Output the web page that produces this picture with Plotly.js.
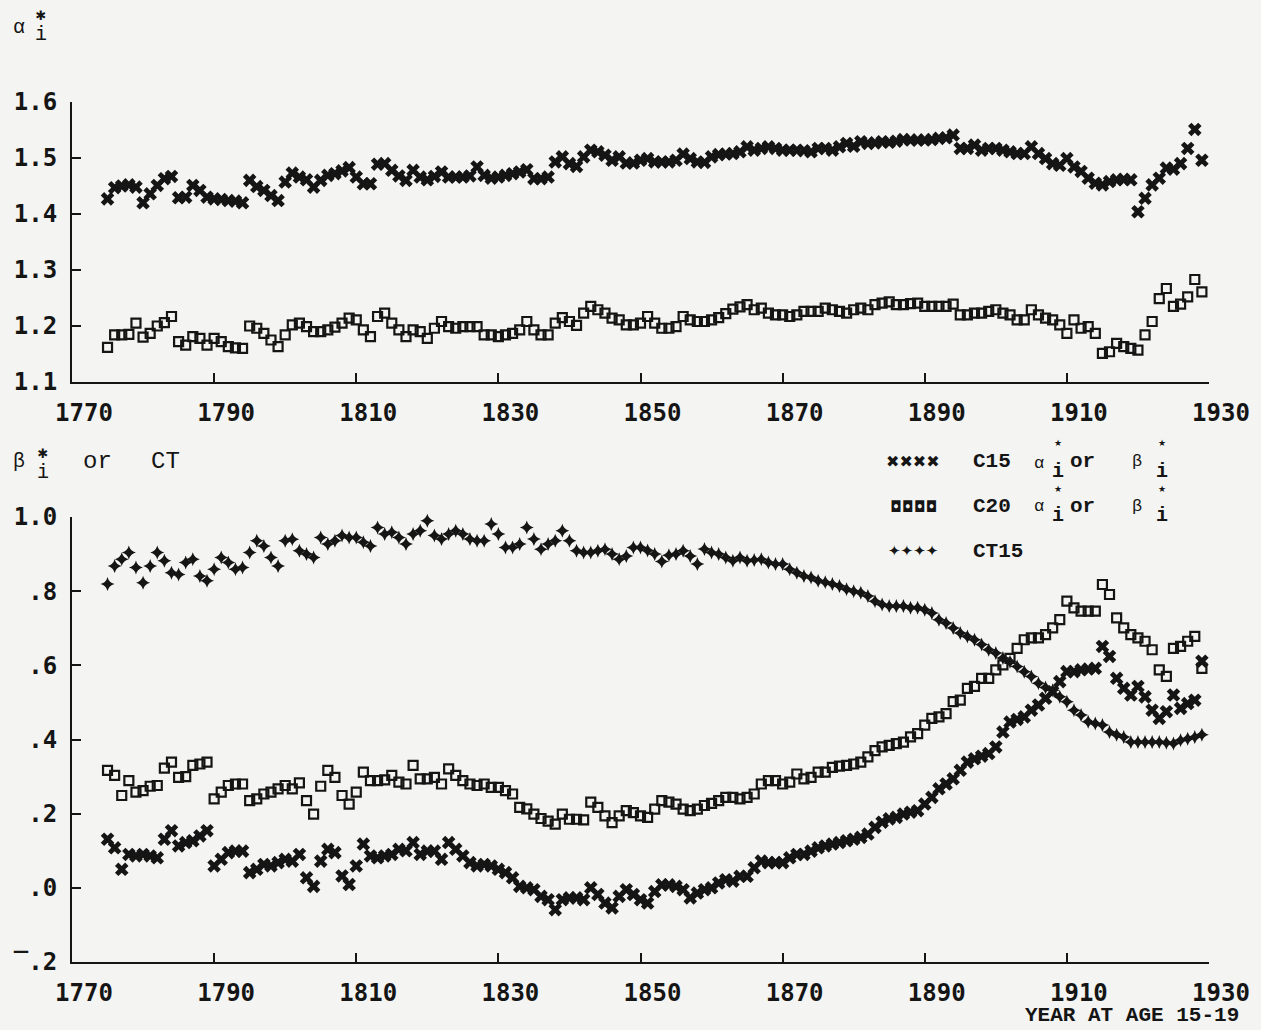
<!DOCTYPE html>
<html><head><meta charset="utf-8">
<script src="https://cdn.plot.ly/plotly-3.0.1.min.js"></script>
<style>html,body{margin:0;padding:0;background:#f4f4f2;} #chart{width:1261px;height:1030px;}</style>
</head><body><div id="chart"></div>
<script>
const years = [
1775,1776,1777,1778,1779,1780,1781,1782,1783,1784,1785,1786,1787,1788,1789,1790,1791,1792,1793,1794,
1795,1796,1797,1798,1799,1800,1801,1802,1803,1804,1805,1806,1807,1808,1809,1810,1811,1812,1813,1814,
1815,1816,1817,1818,1819,1820,1821,1822,1823,1824,1825,1826,1827,1828,1829,1830,1831,1832,1833,1834,
1835,1836,1837,1838,1839,1840,1841,1842,1843,1844,1845,1846,1847,1848,1849,1850,1851,1852,1853,1854,
1855,1856,1857,1858,1859,1860,1861,1862,1863,1864,1865,1866,1867,1868,1869,1870,1871,1872,1873,1874,
1875,1876,1877,1878,1879,1880,1881,1882,1883,1884,1885,1886,1887,1888,1889,1890,1891,1892,1893,1894,
1895,1896,1897,1898,1899,1900,1901,1902,1903,1904,1905,1906,1907,1908,1909,1910,1911,1912,1913,1914,
1915,1916,1917,1918,1919,1920,1921,1922,1923,1924,1925,1926,1927,1928,1929];

// alpha* (top panel)
const alphaC15 = [
1.427,1.447,1.450,1.452,1.448,1.420,1.436,1.451,1.463,1.467,
1.429,1.430,1.451,1.442,1.430,1.427,1.426,1.424,1.423,1.420,
1.460,1.449,1.442,1.433,1.424,1.457,1.473,1.466,1.461,1.448,
1.460,1.469,1.472,1.477,1.483,1.466,1.454,1.454,1.489,1.490,
1.478,1.468,1.460,1.478,1.466,1.461,1.467,1.475,1.466,1.466,
1.466,1.468,1.484,1.469,1.464,1.466,1.469,1.472,1.475,1.479,
1.463,1.463,1.466,1.493,1.502,1.490,1.485,1.502,1.514,1.511,
1.505,1.496,1.502,1.491,1.491,1.496,1.499,1.493,1.493,1.493,
1.496,1.507,1.499,1.493,1.492,1.502,1.506,1.507,1.508,1.511,
1.520,1.514,1.517,1.520,1.517,1.514,1.514,1.514,1.513,1.511,
1.517,1.517,1.514,1.520,1.526,1.521,1.529,1.526,1.527,1.529,
1.528,1.530,1.533,1.532,1.532,1.532,1.533,1.535,1.536,1.541,
1.517,1.517,1.523,1.514,1.517,1.517,1.514,1.511,1.508,1.508,
1.520,1.508,1.499,1.490,1.487,1.499,1.484,1.476,1.464,1.455,
1.452,1.458,1.461,1.462,1.461,1.404,1.428,1.452,1.464,1.482,
1.480,1.490,1.517,1.551,1.496];

const alphaC20 = [
1.162,1.184,1.184,1.185,1.205,1.180,1.187,1.200,1.206,1.217,
1.172,1.166,1.181,1.178,1.166,1.178,1.172,1.163,1.161,1.160,
1.200,1.196,1.187,1.175,1.163,1.184,1.202,1.205,1.199,1.190,
1.190,1.193,1.198,1.205,1.214,1.211,1.193,1.181,1.217,1.223,
1.205,1.193,1.181,1.193,1.190,1.178,1.196,1.208,1.199,1.196,
1.199,1.199,1.199,1.184,1.184,1.181,1.184,1.187,1.193,1.208,
1.193,1.184,1.184,1.205,1.215,1.208,1.201,1.223,1.235,1.229,
1.223,1.214,1.211,1.202,1.202,1.205,1.217,1.205,1.196,1.196,
1.199,1.217,1.211,1.208,1.208,1.211,1.215,1.222,1.230,1.234,
1.238,1.229,1.232,1.223,1.220,1.220,1.217,1.220,1.226,1.226,
1.226,1.232,1.229,1.226,1.223,1.229,1.232,1.229,1.238,1.241,
1.243,1.238,1.238,1.240,1.241,1.235,1.235,1.235,1.235,1.239,
1.220,1.220,1.223,1.223,1.226,1.229,1.223,1.220,1.211,1.211,
1.229,1.220,1.214,1.211,1.202,1.187,1.211,1.196,1.199,1.187,
1.151,1.154,1.169,1.163,1.160,1.157,1.184,1.208,1.249,1.267,
1.235,1.239,1.252,1.283,1.261];

// beta* (bottom panel)
const betaC15 = [
0.131,0.108,0.050,0.090,0.086,0.090,0.086,0.081,0.131,0.154,
0.113,0.122,0.127,0.140,0.154,0.059,0.077,0.095,0.099,0.099,
0.041,0.050,0.063,0.059,0.068,0.077,0.072,0.090,0.027,0.004,
0.072,0.104,0.095,0.032,0.009,0.059,0.118,0.086,0.081,0.086,
0.090,0.104,0.100,0.122,0.090,0.099,0.099,0.077,0.122,0.104,
0.086,0.068,0.059,0.063,0.059,0.050,0.041,0.027,0.004,0.000,
-0.005,-0.023,-0.032,-0.059,-0.032,-0.027,-0.027,-0.032,0.000,-0.018,
-0.041,-0.054,-0.023,-0.005,-0.018,-0.032,-0.041,-0.010,0.008,0.008,
0.004,-0.005,-0.027,-0.014,-0.005,0.000,0.013,0.022,0.018,0.031,
0.031,0.054,0.072,0.068,0.068,0.068,0.081,0.090,0.090,0.099,
0.108,0.113,0.118,0.122,0.127,0.131,0.136,0.145,0.163,0.177,
0.186,0.190,0.199,0.204,0.208,0.226,0.244,0.267,0.280,0.294,
0.317,0.339,0.348,0.355,0.362,0.380,0.420,0.447,0.454,0.461,
0.479,0.493,0.511,0.529,0.556,0.583,0.583,0.588,0.590,0.592,
0.651,0.624,0.565,0.538,0.520,0.543,0.515,0.479,0.457,0.475,
0.520,0.484,0.497,0.506,0.611];

const betaC20 = [
0.317,0.303,0.249,0.289,0.258,0.262,0.274,0.276,0.323,0.339,
0.298,0.300,0.330,0.334,0.339,0.240,0.258,0.276,0.280,0.280,
0.235,0.240,0.253,0.258,0.267,0.276,0.267,0.283,0.235,0.199,
0.274,0.317,0.298,0.249,0.226,0.258,0.312,0.289,0.289,0.291,
0.303,0.285,0.280,0.330,0.294,0.294,0.298,0.280,0.321,0.303,
0.289,0.280,0.276,0.280,0.271,0.271,0.262,0.253,0.217,0.213,
0.199,0.187,0.180,0.172,0.199,0.185,0.185,0.183,0.231,0.217,
0.194,0.176,0.194,0.208,0.203,0.194,0.190,0.212,0.235,0.231,
0.226,0.212,0.208,0.212,0.222,0.228,0.235,0.244,0.244,0.240,
0.244,0.253,0.280,0.289,0.289,0.280,0.285,0.307,0.294,0.298,
0.312,0.312,0.325,0.328,0.330,0.334,0.339,0.353,0.370,0.380,
0.384,0.389,0.393,0.407,0.416,0.439,0.457,0.461,0.470,0.502,
0.506,0.538,0.543,0.565,0.565,0.588,0.601,0.619,0.646,0.669,
0.674,0.674,0.683,0.701,0.723,0.773,0.755,0.746,0.746,0.746,
0.818,0.791,0.728,0.701,0.683,0.674,0.665,0.642,0.588,0.570,
0.646,0.651,0.665,0.678,0.592];

const ct15 = [
0.819,0.868,0.886,0.904,0.864,0.823,0.868,0.904,0.882,0.850,
0.845,0.877,0.886,0.841,0.828,0.859,0.891,0.877,0.859,0.864,
0.904,0.936,0.922,0.891,0.868,0.936,0.940,0.909,0.900,0.891,
0.945,0.927,0.936,0.950,0.945,0.945,0.932,0.922,0.972,0.954,
0.959,0.945,0.927,0.954,0.963,0.990,0.950,0.941,0.954,0.963,
0.954,0.941,0.936,0.936,0.981,0.954,0.918,0.918,0.927,0.972,
0.941,0.913,0.927,0.936,0.963,0.936,0.909,0.904,0.904,0.909,
0.913,0.900,0.886,0.895,0.918,0.918,0.910,0.900,0.880,0.897,
0.900,0.909,0.895,0.873,0.914,0.904,0.900,0.891,0.882,0.891,
0.882,0.884,0.886,0.877,0.873,0.873,0.859,0.850,0.841,0.837,
0.828,0.824,0.819,0.814,0.805,0.800,0.796,0.787,0.773,0.764,
0.760,0.760,0.760,0.755,0.755,0.750,0.741,0.723,0.714,0.701,
0.687,0.678,0.669,0.656,0.642,0.633,0.620,0.610,0.597,0.583,
0.570,0.552,0.540,0.533,0.515,0.502,0.479,0.466,0.448,0.443,
0.439,0.420,0.413,0.407,0.393,0.393,0.393,0.393,0.393,0.391,
0.389,0.398,0.402,0.407,0.413];

const xTickVals = [1770,1790,1810,1830,1850,1870,1890,1910,1930];
const xTickText = ['1770','1790','1810','1830','1850','1870','1890','1910','1930'];
const alphaTickVals = [1.1,1.2,1.3,1.4,1.5,1.6];
const alphaTickText = ['1.1','1.2','1.3','1.4','1.5','1.6'];
const betaTickVals = [-0.2,0,0.2,0.4,0.6,0.8,1.0];
const betaTickText = ['\u203e.2','.0','.2','.4','.6','.8','1.0'];

const INK = '#151515';
const tickFont = {family:'DejaVu Sans Mono', size:24, weight:'bold', color:INK};

// plot area in pixels
const L = 72, T = 102, W = 1137, H = 860;
const px = x => (x - L) / W;
const py = y => (T + H - y) / H;

const mk = (sym, size, lw) => ({symbol:sym, size:size, color:INK, line:{color:INK, width:lw}});

const traces = [
  {x:years, y:alphaC15, xaxis:'x', yaxis:'y', mode:'markers', name:'C15', marker:mk('x', 12, 0), cliponaxis:false},
  {x:years, y:alphaC20, xaxis:'x', yaxis:'y', mode:'markers', name:'C20', marker:mk('square-open', 9, 2.2), cliponaxis:false},
  {x:years, y:betaC15, xaxis:'x2', yaxis:'y2', mode:'markers', name:'C15', marker:mk('x', 12, 0), cliponaxis:false},
  {x:years, y:betaC20, xaxis:'x2', yaxis:'y2', mode:'markers', name:'C20', marker:mk('square-open', 9, 2.2), cliponaxis:false},
  {x:years, y:ct15, xaxis:'x2', yaxis:'y2', mode:'markers', name:'CT15', marker:mk('star-diamond', 10, 0), cliponaxis:false}
];

const xAxisBase = {
  range:[1770,1930], tickmode:'array', tickvals:xTickVals, ticktext:xTickText,
  ticks:'inside', ticklen:9, tickwidth:2, tickcolor:INK,
  showline:true, linewidth:2, linecolor:INK, showgrid:false, zeroline:false,
  tickfont:tickFont, ticklabelshift:12, ticklabelstandoff:8, fixedrange:true
};
const yAxisBase = {
  ticks:'inside', ticklen:9, tickwidth:2, tickcolor:INK, tickmode:'array',
  showline:true, linewidth:2, linecolor:INK, showgrid:false, zeroline:false,
  tickfont:tickFont, ticklabelstandoff:8, fixedrange:true
};

const MONO = 'Liberation Mono';
const txt = (text, x, y, size, family, weight, anchor) => ({
  text:text, x:px(x), y:py(y), xref:'paper', yref:'paper', showarrow:false,
  xanchor:anchor || 'center', yanchor:'middle', borderpad:0,
  font:{family:family, size:size, color:INK, weight:weight || 'normal'}
});
// star stacked over a subscript i (one text, line spacing set by base size)
const starI = (x, yStar, yI, starHtml, iSize, iWeight) => {
  const base = (yI - yStar) / 1.3;
  return txt(starHtml + '<br><span style="font-size:' + iSize + 'px;font-weight:' + iWeight + '">i</span>',
             x, (yStar + yI) / 2, base, MONO);
};
const bigStar = '<span style="font-size:13px;font-family:DejaVu Sans">\u2731</span>';
const smallStar = '<span style="font-size:9px;font-family:DejaVu Sans">\u2605</span>';

const annotations = [
  // top y title  alpha*_i
  txt('\u03b1', 19, 27, 20, MONO),
  starI(41, 17, 37, bigStar, 20, 'normal'),
  // bottom y title  beta*_i or CT
  txt('\u03b2', 19, 461, 20, MONO),
  starI(43, 455, 475, bigStar, 20, 'normal'),
  txt('or', 97, 462, 24, MONO),
  txt('CT', 165, 462, 24, MONO),
  // legend row 1
  txt('\u2716\u2716\u2716\u2716', 913, 462, 16, 'DejaVu Sans'),
  txt('C15', 972, 462, 21, MONO, 'bold', 'left'),
  txt('\u03b1', 1039, 463, 17, MONO),
  starI(1058, 445, 476, smallStar, 20, 'bold'),
  txt('or', 1082, 462, 21, MONO, 'bold'),
  txt('\u03b2', 1137, 462, 17, MONO),
  starI(1162, 445, 476, smallStar, 20, 'bold'),
  // legend row 2
  txt('\u25d8\u25d8\u25d8\u25d8', 913, 507, 15, 'DejaVu Sans'),
  txt('C20', 972, 506, 21, MONO, 'bold', 'left'),
  txt('\u03b1', 1039, 507, 17, MONO),
  starI(1058, 491, 520, smallStar, 20, 'bold'),
  txt('or', 1082, 506, 21, MONO, 'bold'),
  txt('\u03b2', 1137, 506, 17, MONO),
  starI(1162, 491, 520, smallStar, 20, 'bold'),
  // legend row 3
  txt('\u2726\u2726\u2726\u2726', 913, 551, 15, 'DejaVu Sans'),
  txt('CT15', 972, 551, 21, MONO, 'bold', 'left'),
  // x axis caption
  txt('YEAR AT AGE 15-19', 1132, 1015, 21, MONO, 'bold')
];

const layout = {
  width:1261, height:1030,
  margin:{l:L, r:1261 - L - W, t:T, b:1030 - T - H, pad:0},
  paper_bgcolor:'#f4f4f2', plot_bgcolor:'#f4f4f2',
  showlegend:false,
  xaxis:Object.assign({}, xAxisBase, {anchor:'y', domain:[0,1]}),
  yaxis:Object.assign({}, yAxisBase, {anchor:'x', domain:[py(382), 1], range:[1.1,1.6], tickvals:alphaTickVals, ticktext:alphaTickText}),
  xaxis2:Object.assign({}, xAxisBase, {anchor:'y2', domain:[0,1]}),
  yaxis2:Object.assign({}, yAxisBase, {anchor:'x2', domain:[0, py(517)], range:[-0.2,1.0], tickvals:betaTickVals, ticktext:betaTickText}),
  annotations:annotations
};

Plotly.newPlot('chart', traces, layout, {displayModeBar:false, staticPlot:true});
</script>
</body></html>
